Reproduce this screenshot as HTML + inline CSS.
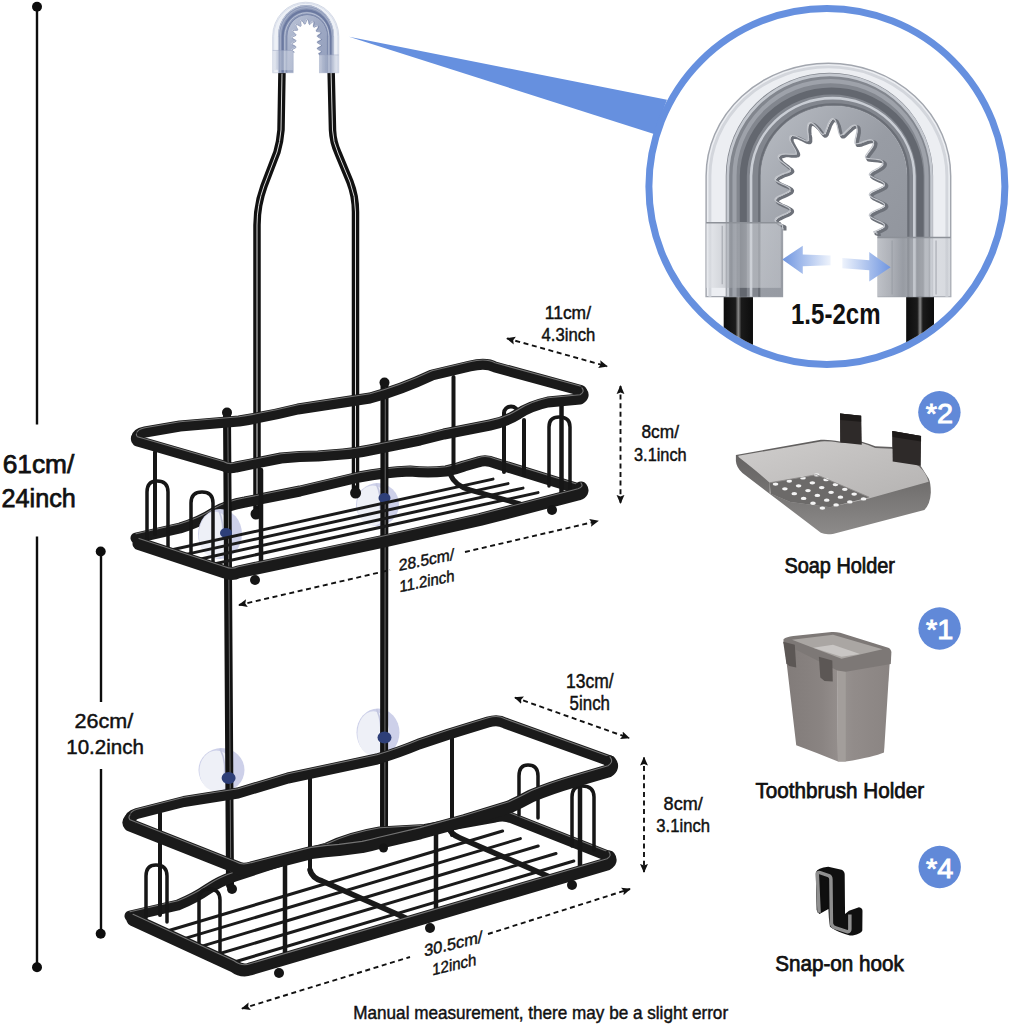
<!DOCTYPE html>
<html><head><meta charset="utf-8">
<style>
html,body{margin:0;padding:0;background:#fff;width:1010px;height:1024px;overflow:hidden}
svg{display:block}
text{font-family:"Liberation Sans",sans-serif;fill:#111}
.d{stroke:#111;stroke-width:0.45px}
.m{stroke:#111;stroke-width:0.75px}
</style></head><body>
<svg width="1010" height="1024" viewBox="0 0 1010 1024">
<defs>
  <marker id="ah" viewBox="0 0 10 10" refX="9" refY="5" markerWidth="9" markerHeight="9" markerUnits="userSpaceOnUse" orient="auto-start-reverse">
    <path d="M0,0.6 L10,5 L0,9.4 L1.8,5 Z" fill="#111"/>
  </marker>
  <clipPath id="circClip"><circle cx="826.9" cy="186.6" r="174.6"/></clipPath>
  <linearGradient id="bandG" x1="0" y1="0" x2="1" y2="0">
    <stop offset="0" stop-color="#c9ccd2"/><stop offset="0.12" stop-color="#8c9097"/><stop offset="0.3" stop-color="#7a7e86"/>
    <stop offset="0.5" stop-color="#a9adb5"/><stop offset="0.7" stop-color="#8a8e96"/><stop offset="0.88" stop-color="#7b7f87"/><stop offset="1" stop-color="#b9bdc4"/>
  </linearGradient>
  <linearGradient id="shellG" x1="0" y1="0" x2="1" y2="0">
    <stop offset="0" stop-color="#dfe2e8"/><stop offset="0.5" stop-color="#e9ebef"/><stop offset="1" stop-color="#d7dae0"/>
  </linearGradient>
  <linearGradient id="teethG" x1="0" y1="0" x2="1" y2="1">
    <stop offset="0" stop-color="#b9bdc4"/><stop offset="0.5" stop-color="#989ca4"/><stop offset="1" stop-color="#8f939b"/>
  </linearGradient>
  <linearGradient id="capG" x1="0" y1="0" x2="1" y2="0">
    <stop offset="0" stop-color="#e4e6ea"/><stop offset="0.2" stop-color="#c2c5cb"/><stop offset="0.35" stop-color="#9ea2a9"/><stop offset="0.6" stop-color="#d0d3d8"/><stop offset="1" stop-color="#c6c9cf"/>
  </linearGradient>
  <linearGradient id="arrL" x1="0" y1="0" x2="1" y2="0">
    <stop offset="0" stop-color="#6f95e0"/><stop offset="1" stop-color="#eef3fc"/>
  </linearGradient>
  <linearGradient id="arrR" x1="0" y1="0" x2="1" y2="0">
    <stop offset="0" stop-color="#eef3fc"/><stop offset="1" stop-color="#6f95e0"/>
  </linearGradient>
  <linearGradient id="wireG" x1="0" y1="0" x2="1" y2="0">
    <stop offset="0" stop-color="#0c0c0c"/><stop offset="0.4" stop-color="#1a1a1a"/><stop offset="0.5" stop-color="#8a8a8a"/><stop offset="0.6" stop-color="#1a1a1a"/><stop offset="1" stop-color="#0c0c0c"/>
  </linearGradient>
  <linearGradient id="soapWall" x1="0" y1="0" x2="0" y2="1">
    <stop offset="0" stop-color="#555353"/><stop offset="0.55" stop-color="#6f6d6c"/><stop offset="1" stop-color="#8d8b8a"/>
  </linearGradient>
  <linearGradient id="soapIn" x1="0" y1="0" x2="1" y2="1">
    <stop offset="0" stop-color="#cfcdcc"/><stop offset="1" stop-color="#b3b1b0"/>
  </linearGradient>
  <linearGradient id="tbL" x1="0" y1="0" x2="1" y2="0">
    <stop offset="0" stop-color="#817b79"/><stop offset="0.7" stop-color="#8a8482"/><stop offset="1" stop-color="#948e8c"/>
  </linearGradient>
  <linearGradient id="tbR" x1="0" y1="0" x2="1" y2="0">
    <stop offset="0" stop-color="#9a9593"/><stop offset="0.3" stop-color="#928c8a"/><stop offset="1" stop-color="#8a8482"/>
  </linearGradient>
  <linearGradient id="cupG" x1="0" y1="0" x2="1" y2="0.3">
    <stop offset="0" stop-color="#f2f3f8"/><stop offset="0.45" stop-color="#eceef6"/><stop offset="0.7" stop-color="#d9dbee"/><stop offset="1" stop-color="#dcdef0"/>
  </linearGradient>
  <filter id="blueTint" color-interpolation-filters="sRGB">
    <feColorMatrix type="matrix" values="0.95 0 0 0 0.05  0 0.88 0 0 0.12  0 0 0.66 0 0.34  0 0 0 1 0"/>
  </filter>
  <g id="clipArt">
    <path d="M55,842 L55,430 A417.5,385 0 0 1 890,430 L890,842 Z" fill="#eceef2" stroke="#a2a6ae" stroke-width="5"/>
    <path d="M68,842 L68,430 A404,372 0 0 1 877,430 L877,842" fill="none" stroke="#d3d6dc" stroke-width="10"/>
    <path d="M242,842 L242,430 A249.5,239 0 0 1 741,430 L741,842 Z" fill="url(#teethG)"/>
    <path d="M122,842 L122,430 A354,352 0 0 1 830,430 L830,842 L741,842 L741,430 A249.5,239 0 0 0 242,430 L242,842 Z" fill="#82868e"/>
    <path d="M129.2,842 L129.2,430 A347.7,345.2 0 0 1 824.7,430 L824.7,842" fill="none" stroke="#c4c8cf" stroke-width="9"/>
    <path d="M152.0,842 L152.0,430 A327.9,323.8 0 0 1 807.8,430 L807.8,842" fill="none" stroke="#9ea2aa" stroke-width="14"/>
    <path d="M182.0,842 L182.0,430 A301.8,295.5 0 0 1 785.5,430 L785.5,842" fill="none" stroke="#63676f" stroke-width="24"/>
    <path d="M208.4,842 L208.4,430 A278.8,270.6 0 0 1 765.9,430 L765.9,842" fill="none" stroke="#c9cdd4" stroke-width="9"/>
    <path d="M236.0,842 L236.0,430 A254.7,244.7 0 0 1 745.5,430 L745.5,842" fill="none" stroke="#6a6e76" stroke-width="7"/>
    <path d="M318,900 L318,896 L318,892 L318,888 L318,884 L318,880 L318,876 L318,872 L318,868 L318,864 L318,860 L318,856 L318,852 L318,848 L318,844 L318,840 L318,836 L318,832 L318,828 L318,824 L318,820 L318,816 L318,812 L318,808 L318,804 L318,800 L318,796 L318,792 L318,788 L318,784 L318,780 L318,776 L318,772 L318,768 L318,764 L318,760 L318,756 L318,752 L318,748 L318,744 L318,740 L318,736 L318,732 L318,728 L318,724 L318,720 L318,716 L318,712 L318,708 L318,704 L318,700 L318,696 L318,692 L318,688 L318,684 L318,680 L318,676 L318,672 L318,668 L318,664 L318,660 L318,656 L318,652 L318,648 L318,644 L318,640 L318,636 L318,632 L318,628 L318,624 L318,620 L318,616 L318,612 L318,608 L318,604 L318,600 L309,596 L301,592 L295,588 L292,584 L293,580 L296,576 L303,572 L311,568 L320,564 L329,560 L337,556 L342,552 L344,548 L343,544 L338,540 L331,536 L323,532 L313,528 L305,524 L298,520 L293,516 L292,512 L294,508 L299,504 L307,500 L316,496 L325,492 L333,488 L340,484 L343,480 L344,476 L341,472 L335,468 L327,464 L318,460 L309,456 L301,452 L295,448 L292,444 L293,440 L296,436 L303,432 L311,428 L320,424 L330,421 L337,418 L343,414 L345,411 L344,408 L341,404 L334,399 L327,393 L319,387 L311,381 L306,375 L303,369 L303,365 L306,361 L313,359 L321,357 L331,357 L341,358 L351,358 L358,358 L363,357 L365,354 L364,349 L361,343 L357,336 L352,327 L347,318 L343,310 L342,303 L343,298 L346,294 L352,294 L360,295 L368,298 L378,303 L386,307 L394,311 L400,312 L404,312 L406,309 L406,304 L406,296 L404,286 L403,276 L403,267 L404,258 L406,253 L410,250 L415,250 L421,253 L428,259 L435,266 L441,274 L446,281 L451,287 L455,290 L459,289 L462,286 L464,280 L467,272 L471,262 L474,253 L479,245 L483,239 L488,236 L492,237 L497,241 L500,248 L504,257 L506,267 L508,276 L510,284 L512,290 L515,293 L518,293 L523,290 L529,284 L535,278 L543,271 L550,264 L557,260 L563,258 L568,259 L571,263 L572,270 L572,279 L570,289 L568,298 L566,307 L565,315 L565,320 L567,322 L572,322 L578,321 L586,318 L596,314 L605,311 L614,309 L621,309 L626,311 L629,315 L628,321 L626,328 L621,336 L615,344 L609,352 L604,359 L601,364 L601,368 L603,371 L609,372 L616,373 L626,374 L636,375 L645,376 L653,378 L659,382 L661,386 L660,391 L656,396 L649,402 L641,407 L632,412 L624,416 L618,421 L615,424 L614,428 L617,431 L623,435 L631,439 L640,443 L649,447 L657,451 L663,455 L666,459 L665,463 L662,467 L655,471 L647,475 L638,479 L629,483 L621,487 L616,491 L614,495 L615,499 L620,503 L627,507 L635,511 L645,515 L653,519 L660,523 L665,527 L666,531 L664,535 L659,539 L651,543 L642,547 L633,551 L625,555 L618,559 L615,563 L614,567 L617,571 L623,575 L631,579 L640,583 L649,587 L657,591 L663,595 L666,599 L665,603 L662,607 L655,611 L647,615 L638,619 L629,623 L640,627 L640,631 L640,635 L640,639 L640,643 L640,647 L640,651 L640,655 L640,659 L640,663 L640,667 L640,671 L640,675 L640,679 L640,683 L640,687 L640,691 L640,695 L640,699 L640,703 L640,707 L640,711 L640,715 L640,719 L640,723 L640,727 L640,731 L640,735 L640,739 L640,743 L640,747 L640,751 L640,755 L640,759 L640,763 L640,767 L640,771 L640,775 L640,779 L640,783 L640,787 L640,791 L640,795 L640,799 L640,803 L640,807 L640,811 L640,815 L640,819 L640,823 L640,827 L640,831 L640,835 L640,839 L640,843 L640,847 L640,851 L640,855 L640,859 L640,863 L640,867 L640,871 L640,875 L640,879 L640,883 L640,887 L640,891 L640,895 L640,899 L640,900 Z" fill="#fff"/>
    <path d="M318,612 L318,608 L318,604 L318,600 L309,596 L301,592 L295,588 L292,584 L293,580 L296,576 L303,572 L311,568 L320,564 L329,560 L337,556 L342,552 L344,548 L343,544 L338,540 L331,536 L323,532 L313,528 L305,524 L298,520 L293,516 L292,512 L294,508 L299,504 L307,500 L316,496 L325,492 L333,488 L340,484 L343,480 L344,476 L341,472 L335,468 L327,464 L318,460 L309,456 L301,452 L295,448 L292,444 L293,440 L296,436 L303,432 L311,428 L320,424 L330,421 L337,418 L343,414 L345,411 L344,408 L341,404 L334,399 L327,393 L319,387 L311,381 L306,375 L303,369 L303,365 L306,361 L313,359 L321,357 L331,357 L341,358 L351,358 L358,358 L363,357 L365,354 L364,349 L361,343 L357,336 L352,327 L347,318 L343,310 L342,303 L343,298 L346,294 L352,294 L360,295 L368,298 L378,303 L386,307 L394,311 L400,312 L404,312 L406,309 L406,304 L406,296 L404,286 L403,276 L403,267 L404,258 L406,253 L410,250 L415,250 L421,253 L428,259 L435,266 L441,274 L446,281 L451,287 L455,290 L459,289 L462,286 L464,280 L467,272 L471,262 L474,253 L479,245 L483,239 L488,236 L492,237 L497,241 L500,248 L504,257 L506,267 L508,276 L510,284 L512,290 L515,293 L518,293 L523,290 L529,284 L535,278 L543,271 L550,264 L557,260 L563,258 L568,259 L571,263 L572,270 L572,279 L570,289 L568,298 L566,307 L565,315 L565,320 L567,322 L572,322 L578,321 L586,318 L596,314 L605,311 L614,309 L621,309 L626,311 L629,315 L628,321 L626,328 L621,336 L615,344 L609,352 L604,359 L601,364 L601,368 L603,371 L609,372 L616,373 L626,374 L636,375 L645,376 L653,378 L659,382 L661,386 L660,391 L656,396 L649,402 L641,407 L632,412 L624,416 L618,421 L615,424 L614,428 L617,431 L623,435 L631,439 L640,443 L649,447 L657,451 L663,455 L666,459 L665,463 L662,467 L655,471 L647,475 L638,479 L629,483 L621,487 L616,491 L614,495 L615,499 L620,503 L627,507 L635,511 L645,515 L653,519 L660,523 L665,527 L666,531 L664,535 L659,539 L651,543 L642,547 L633,551 L625,555 L618,559 L615,563 L614,567 L617,571 L623,575 L631,579 L640,583 L649,587 L657,591 L663,595 L666,599 L665,603 L662,607 L655,611 L647,615 L638,619 L629,623 L640,627 L640,631" fill="none" stroke="#6d7179" stroke-width="11" stroke-linejoin="round" transform="translate(6,4)"/>
    <path d="M318,612 L318,608 L318,604 L318,600 L309,596 L301,592 L295,588 L292,584 L293,580 L296,576 L303,572 L311,568 L320,564 L329,560 L337,556 L342,552 L344,548 L343,544 L338,540 L331,536 L323,532 L313,528 L305,524 L298,520 L293,516 L292,512 L294,508 L299,504 L307,500 L316,496 L325,492 L333,488 L340,484 L343,480 L344,476 L341,472 L335,468 L327,464 L318,460 L309,456 L301,452 L295,448 L292,444 L293,440 L296,436 L303,432 L311,428 L320,424 L330,421 L337,418 L343,414 L345,411 L344,408 L341,404 L334,399 L327,393 L319,387 L311,381 L306,375 L303,369 L303,365 L306,361 L313,359 L321,357 L331,357 L341,358 L351,358 L358,358 L363,357 L365,354 L364,349 L361,343 L357,336 L352,327 L347,318 L343,310 L342,303 L343,298 L346,294 L352,294 L360,295 L368,298 L378,303 L386,307 L394,311 L400,312 L404,312 L406,309 L406,304 L406,296 L404,286 L403,276 L403,267 L404,258 L406,253 L410,250 L415,250 L421,253 L428,259 L435,266 L441,274 L446,281 L451,287 L455,290 L459,289 L462,286 L464,280 L467,272 L471,262 L474,253 L479,245 L483,239 L488,236 L492,237 L497,241 L500,248 L504,257 L506,267 L508,276 L510,284 L512,290 L515,293 L518,293 L523,290 L529,284 L535,278 L543,271 L550,264 L557,260 L563,258 L568,259 L571,263 L572,270 L572,279 L570,289 L568,298 L566,307 L565,315 L565,320 L567,322 L572,322 L578,321 L586,318 L596,314 L605,311 L614,309 L621,309 L626,311 L629,315 L628,321 L626,328 L621,336 L615,344 L609,352 L604,359 L601,364 L601,368 L603,371 L609,372 L616,373 L626,374 L636,375 L645,376 L653,378 L659,382 L661,386 L660,391 L656,396 L649,402 L641,407 L632,412 L624,416 L618,421 L615,424 L614,428 L617,431 L623,435 L631,439 L640,443 L649,447 L657,451 L663,455 L666,459 L665,463 L662,467 L655,471 L647,475 L638,479 L629,483 L621,487 L616,491 L614,495 L615,499 L620,503 L627,507 L635,511 L645,515 L653,519 L660,523 L665,527 L666,531 L664,535 L659,539 L651,543 L642,547 L633,551 L625,555 L618,559 L615,563 L614,567 L617,571 L623,575 L631,579 L640,583 L649,587 L657,591 L663,595 L666,599 L665,603 L662,607 L655,611 L647,615 L638,619 L629,623 L640,627 L640,631" fill="none" stroke="#c3c6cc" stroke-width="4" stroke-linejoin="round" transform="translate(-2,-2)"/>
    <rect x="55" y="590" width="255" height="222" fill="url(#capG)" opacity="0.55"/>
    <rect x="640" y="640" width="250" height="202" fill="url(#capG)" opacity="0.55"/>
    <path d="M55,590 L310,590 M640,640 L890,640" stroke="#8d9198" stroke-width="5"/>
    <path d="M110,600 L110,800 M690,650 L690,835 M840,650 L840,835" stroke="#9599a0" stroke-width="4" opacity="0.7"/>
      </g>
</defs>
<g fill="#0d0d0d" stroke="#0d0d0d">
  <line x1="37" y1="7" x2="37" y2="424.5" stroke-width="2.4"/>
  <line x1="37" y1="536.5" x2="37" y2="967" stroke-width="2.4"/>
  <circle cx="37" cy="6.8" r="5" stroke="none"/>
  <circle cx="37" cy="967.3" r="5" stroke="none"/>
  <line x1="101" y1="551" x2="101" y2="702" stroke-width="2.4"/>
  <line x1="101" y1="769" x2="101" y2="934" stroke-width="2.4"/>
  <circle cx="100.7" cy="551.5" r="5" stroke="none"/>
  <circle cx="100.7" cy="933.8" r="5" stroke="none"/>
</g>
<text x="2.7" y="473.1" style="font-size:26.6px;font-weight:normal" textLength="71.6" lengthAdjust="spacingAndGlyphs" class="m">61cm/</text>
<text x="1.5" y="507.3" style="font-size:26.6px;font-weight:normal" textLength="74.3" lengthAdjust="spacingAndGlyphs" class="m">24inch</text>
<text x="74.5" y="728.3" class="d" style="font-size:20.3px" textLength="58.7" lengthAdjust="spacingAndGlyphs">26cm/</text>
<text x="66.3" y="754.3" class="d" style="font-size:20.3px" textLength="77.6" lengthAdjust="spacingAndGlyphs">10.2inch</text>
<text x="544.8" y="319" class="d" style="font-size:18.3px" textLength="46.2" lengthAdjust="spacingAndGlyphs">11cm/</text>
<text x="541.6" y="340.5" class="d" style="font-size:18.3px" textLength="53.7" lengthAdjust="spacingAndGlyphs">4.3inch</text>
<text x="641.5" y="438.3" class="d" style="font-size:18.3px" textLength="37.5" lengthAdjust="spacingAndGlyphs">8cm/</text>
<text x="634" y="461" class="d" style="font-size:18.3px" textLength="52.7" lengthAdjust="spacingAndGlyphs">3.1inch</text>
<text x="566" y="687.8" class="d" style="font-size:19.5px" textLength="47.6" lengthAdjust="spacingAndGlyphs">13cm/</text>
<text x="569.6" y="710" class="d" style="font-size:19.5px" textLength="40.4" lengthAdjust="spacingAndGlyphs">5inch</text>
<text x="663.6" y="810" class="d" style="font-size:18.8px" textLength="39.1" lengthAdjust="spacingAndGlyphs">8cm/</text>
<text x="656.3" y="832" class="d" style="font-size:18.8px" textLength="53.7" lengthAdjust="spacingAndGlyphs">3.1inch</text>
<text x="353.3" y="1018.8" class="d" style="font-size:18.2px" textLength="374.8" lengthAdjust="spacingAndGlyphs">Manual measurement, there may be a slight error</text>
<text x="784.4" y="573" style="font-size:22.3px;font-weight:normal" textLength="110.6" lengthAdjust="spacingAndGlyphs" class="m">Soap Holder</text>
<text x="755.4" y="798.4" style="font-size:22.3px;font-weight:normal" textLength="168.8" lengthAdjust="spacingAndGlyphs" class="m">Toothbrush Holder</text>
<text x="775.3" y="970.5" style="font-size:22.3px;font-weight:normal" textLength="128.5" lengthAdjust="spacingAndGlyphs" class="m">Snap-on hook</text>
<g transform="matrix(1,-0.2,0,1,398.7,570.9)"><text x="0" y="0" class="d" style="font-size:16.3px" textLength="55.5" lengthAdjust="spacingAndGlyphs">28.5cm/</text><text x="0.8" y="21.4" class="d" style="font-size:16.3px" textLength="55" lengthAdjust="spacingAndGlyphs">11.2inch</text></g>
<g transform="matrix(1,-0.242,0,1,424.3,956.5)"><text x="0" y="0" class="d" style="font-size:16.6px" textLength="58" lengthAdjust="spacingAndGlyphs">30.5cm/</text><text x="8" y="21" class="d" style="font-size:16.6px" textLength="44" lengthAdjust="spacingAndGlyphs">12inch</text></g>
<path d="M349,36.7 L667,99.8 L654,134 Z" fill="#6690df"/>
<circle cx="826.9" cy="186.6" r="178" fill="#fff" stroke="#6690df" stroke-width="7"/>
<g clip-path="url(#circClip)">
  <g transform="translate(690,50) scale(0.29291)">
    <rect x="115" y="800" width="100" height="260" fill="url(#wireG)"/>
    <rect x="738" y="835" width="95" height="230" fill="url(#wireG)"/>
    <use href="#clipArt"/>
    <path d="M315,715 L385,668 L385,698 L480,702 L480,735 L385,738 L385,765 Z" fill="url(#arrL)"/>
    <path d="M685,742 L612,690 L612,718 L520,710 L520,745 L612,752 L612,790 Z" fill="url(#arrR)"/>
  </g>
</g>
<text x="791" y="324" style="font-size:30px;font-weight:bold" textLength="89.5" lengthAdjust="spacingAndGlyphs">1.5-2cm</text>
<circle cx="939.4" cy="412.3" r="21.2" fill="#6189d8"/><text x="925.7" y="423.0" style="font-size:27.5px;font-weight:normal;fill:#fff" textLength="27.3" lengthAdjust="spacingAndGlyphs" stroke="#fff" stroke-width="0.9">*2</text><circle cx="939.6" cy="628.5" r="21.2" fill="#6189d8"/><text x="925.9" y="639.2" style="font-size:27.5px;font-weight:normal;fill:#fff" textLength="27.3" lengthAdjust="spacingAndGlyphs" stroke="#fff" stroke-width="0.9">*1</text><circle cx="939.7" cy="867" r="21.2" fill="#6189d8"/><text x="926.0" y="877.7" style="font-size:27.5px;font-weight:normal;fill:#fff" textLength="27.3" lengthAdjust="spacingAndGlyphs" stroke="#fff" stroke-width="0.9">*4</text>
<g id="caddy" fill="none" stroke-linecap="round" stroke-linejoin="round">
  <!-- hanger wires -->
  <g stroke="#111" stroke-width="7.5">
    <path d="M282,70 L281,130 Q280,142 277,152 L264,186 Q257,205 257,225 L257,512"/>
    <path d="M331,66 L332.5,130 Q333,142 338,153 L350,182 Q355.5,196 355.5,212 L355.5,492"/>
  </g>
  <g stroke="#d8d8d8" stroke-width="1">
    <path d="M282,74 L281,130 Q280,142 277,152 L264,186 Q257,205 257,225 L257,505"/>
    <path d="M331,70 L332.5,130 Q333,142 338,153 L350,182 Q355.5,196 355.5,212 L355.5,485"/>
  </g>

  <!-- ===== TOP SHELF ===== -->
  <!-- floor back bar -->
  <path d="M136,538 L180,528 Q200,522 215,512 Q228,505 245,502 L300,491 L359,477 Q385,472 410,471 Q428,473 446,471 Q456,469 464,466 L478,462 Q486,459 495,463 L579,489" stroke="#1a1a1a" stroke-width="11"/>
  <path d="M136,538 L180,528 Q200,522 215,512 Q228,505 245,502 L300,491 L359,477 Q385,472 410,471 Q428,473 446,471 Q456,469 464,466 L478,462 Q486,459 495,463 L579,489" stroke="#8a8a8a" stroke-width="1.1" transform="translate(0,-4.2)" opacity="0.8"/>
  <!-- suction cups top -->
  <ellipse cx="220.0" cy="534.0" rx="22.0" ry="25.0" fill="#cdd0e9" stroke="none"/><ellipse cx="215.2" cy="535.0" rx="16.3" ry="23.2" fill="#eef0f7" stroke="none"/><path d="M218.9,510.2 Q224.4,524.0 222.6,539.0" stroke="#c4c7e0" stroke-width="1.6" fill="none"/>
  <ellipse cx="377.5" cy="504.5" rx="21.5" ry="21.5" fill="#cdd0e9" stroke="none"/><ellipse cx="372.8" cy="505.4" rx="15.9" ry="20.0" fill="#eef0f7" stroke="none"/><path d="M376.4,484.1 Q381.8,495.9 380.1,508.8" stroke="#c4c7e0" stroke-width="1.6" fill="none"/>
  <!-- cross bar -->
  <path d="M450,474 Q455,486 470,490 L520,504" stroke="#1a1a1a" stroke-width="5"/>
  <!-- back posts -->
  <g stroke="#161616" stroke-width="4">
    <line x1="453.5" y1="377" x2="453.5" y2="468"/>
    <path d="M504,472 L504,413 A7,6.5 0 0 1 518,413"/>
    <line x1="524" y1="420" x2="524" y2="475"/>
    <line x1="155" y1="452" x2="155" y2="534"/>
  </g>
  <!-- bottom cups -->
  <ellipse cx="221.5" cy="770.0" rx="23.0" ry="22.0" fill="#cdd0e9" stroke="none"/><ellipse cx="216.4" cy="770.9" rx="17.0" ry="20.5" fill="#eef0f7" stroke="none"/><path d="M220.3,749.1 Q226.1,761.2 224.3,774.4" stroke="#c4c7e0" stroke-width="1.6" fill="none"/>
  <ellipse cx="378.0" cy="732.5" rx="21.5" ry="24.0" fill="#cdd0e9" stroke="none"/><ellipse cx="373.3" cy="733.5" rx="15.9" ry="22.3" fill="#eef0f7" stroke="none"/><path d="M376.9,709.7 Q382.3,722.9 380.6,737.3" stroke="#c4c7e0" stroke-width="1.6" fill="none"/>
  <!-- long rods -->
  <g stroke="#121212" stroke-width="8">
    <path d="M227,414 L230,885"/>
    <path d="M384.5,384 L384,840"/>
  </g>
  <g stroke="#6a6a6a" stroke-width="1">
    <path d="M227.8,418 L230.8,880"/>
    <path d="M385.3,388 L384.8,835"/>
  </g>
  <g fill="#151515" stroke="none">
    <circle cx="227" cy="412.5" r="5"/><circle cx="384.5" cy="382.5" r="5"/>
    <circle cx="256" cy="514" r="5.5"/><circle cx="355.6" cy="493" r="5.5"/>
  </g>
  <!-- navy knobs -->
  <g fill="#2e3f78" stroke="none">
    <ellipse cx="226" cy="533" rx="6" ry="5"/><ellipse cx="384.5" cy="498" rx="6" ry="5"/>
    <ellipse cx="228.6" cy="778" rx="7" ry="6"/><ellipse cx="384.5" cy="737.6" rx="7" ry="6"/>
  </g>
  <!-- slats top -->
  <g stroke="#1a1a1a" stroke-width="3">
    <line x1="163" y1="551.7" x2="493" y2="479.1"/>
    <line x1="177" y1="556.4" x2="508" y2="483.6"/>
    <line x1="191.6" y1="561" x2="523" y2="488.1"/>
    <line x1="206" y1="565.7" x2="538" y2="492.6"/>
  </g>
  <!-- top rim back bar + right side -->
  <path d="M136.5,438 Q137,433.5 145,432 L180,426 L239,421 Q270,416 298,409 L370,398 Q400,390 432,375 L470,366 Q486,362 495,367 L581,390.5" stroke="#1a1a1a" stroke-width="11"/>
  <path d="M136.5,438 Q137,433.5 145,432 L180,426 L239,421 Q270,416 298,409 L370,398 Q400,390 432,375 L470,366 Q486,362 495,367 L581,390.5" stroke="#8a8a8a" stroke-width="1.1" transform="translate(0,-4.2)" opacity="0.8"/>
  <!-- front posts -->
  <g stroke="#161616" stroke-width="4.5">
    <line x1="261" y1="470" x2="261" y2="570"/>
    <line x1="561.5" y1="405" x2="561.5" y2="493"/>
  </g>
  <!-- U loops top shelf -->
  <g stroke="#161616" stroke-width="3.5">
    <path d="M147,545 L147,492 Q147,481 157,481 Q168,481 168,492 L168,550"/>
    <path d="M191,556 L191,503 Q191,492 202,492 Q213,492 213,503 L213,562"/>
    <path d="M549,486 L549,427 Q549,417 559,417 Q570,417 570,427 L570,490"/>
  </g>
  <!-- floor front bar + left side -->
  <path d="M139,543.6 L225,572 Q232,575 238,572 L380,542 L480,519.5 L578,494 Q584,492 581,488" stroke="#1a1a1a" stroke-width="13"/>
  <path d="M139,543.6 L225,572 Q232,575 238,572 L380,542 L480,519.5 L578,494 Q584,492 581,488" stroke="#8a8a8a" stroke-width="1.1" transform="translate(0,-5.2)" opacity="0.8"/>
  <!-- top rim front + left -->
  <path d="M582,392 Q585,396 580,399 L548,402 Q530,406 518,414 Q505,422 490,425 L444,434 L420,440 L370,450 Q355,453 343,454 L318,456 Q300,456 281,458 L236,467 Q229,469 224,466 L137.5,441 Q136,439.5 136.5,438" stroke="#1a1a1a" stroke-width="11"/>
  <path d="M582,392 Q585,396 580,399 L548,402 Q530,406 518,414 Q505,422 490,425 L444,434 L420,440 L370,450 Q355,453 343,454 L318,456 Q300,456 281,458 L236,467 Q229,469 224,466 L137.5,441 Q136,439.5 136.5,438" stroke="#8a8a8a" stroke-width="1.1" transform="translate(0,-4.2)" opacity="0.8"/>
  <!-- feet -->
  <g fill="#151515" stroke="none">
    <circle cx="255" cy="580" r="5"/><circle cx="552" cy="510" r="5"/>
  </g>

  <!-- ===== BOTTOM SHELF ===== -->
  <!-- floor back bar -->
  <path d="M130,916 L178,905 Q195,898 208,889 Q220,881 235,876 L290,858 L327,848 Q350,837 380,832 L425,829.5 L495,817 Q504,814.5 512,818 L608,856" stroke="#1a1a1a" stroke-width="11"/>
  <path d="M130,916 L178,905 Q195,898 208,889 Q220,881 235,876 L290,858 L327,848 Q350,837 380,832 L425,829.5 L495,817 Q504,814.5 512,818 L608,856" stroke="#8a8a8a" stroke-width="1.1" transform="translate(0,-4.2)" opacity="0.8"/>
  <!-- suction cups -->

  <!-- cross bars -->
  <g stroke="#1a1a1a" stroke-width="5.5">
    <path d="M310,870 Q312,878 322,881 L408,919"/>
    <path d="M448,826 Q450,834 460,838 L552,878"/>
  </g>
  <!-- back posts -->
  <g stroke="#161616" stroke-width="4">
    <line x1="160" y1="813" x2="160" y2="915"/>
    <line x1="452" y1="734" x2="452" y2="835"/>
    <line x1="310" y1="778" x2="310" y2="872"/>
  </g>
  <!-- slats bottom -->
  <g stroke="#1a1a1a" stroke-width="3">
    <line x1="158" y1="933.8" x2="502.6" y2="831"/>
    <line x1="175" y1="941.4" x2="520.4" y2="838.6"/>
    <line x1="192" y1="949.1" x2="538.2" y2="846"/>
    <line x1="209" y1="956.8" x2="556" y2="853.5"/>
    <line x1="226" y1="964.5" x2="573.8" y2="861"/>
  </g>
  <!-- top rim back bar + right side -->
  <path d="M130,820 Q130,815.5 137,813.5 L184,801.5 L238,793 L288,778 L377,759 Q400,752 419,744 L449,734 L488,722 Q498,719 505,723 L610,761" stroke="#1a1a1a" stroke-width="11"/>
  <path d="M130,820 Q130,815.5 137,813.5 L184,801.5 L238,793 L288,778 L377,759 Q400,752 419,744 L449,734 L488,722 Q498,719 505,723 L610,761" stroke="#8a8a8a" stroke-width="1.1" transform="translate(0,-4.2)" opacity="0.8"/>
  <!-- U loops / posts -->
  <g stroke="#161616" stroke-width="3.5">
    <path d="M146,918 L146,876 Q146,865 156,865 Q167,865 167,876 L167,922"/>
    <path d="M199,950 L199,900 Q199,889 209,889 Q220,889 220,900 L220,955"/>
    <path d="M519,815 L519,776 Q519,765 528,765 Q538,765 538,776 L538,818"/>
    <path d="M572,846 L572,797 Q572,786 582,786 Q594,786 594,797 L594,850"/>
  </g>
  <g stroke="#161616" stroke-width="4.5">
    <line x1="285" y1="862" x2="285" y2="955"/>
    <line x1="436" y1="830" x2="436" y2="912"/>
    <line x1="580" y1="782" x2="580" y2="868"/>
  </g>
  <!-- floor front + left -->
  <path d="M133,919.5 L234,966 Q242,972 250,969 L607,864 Q612,861 609,857" stroke="#1a1a1a" stroke-width="13"/>
  <path d="M133,919.5 L234,966 Q242,972 250,969 L607,864 Q612,861 609,857" stroke="#8a8a8a" stroke-width="1.1" transform="translate(0,-5.2)" opacity="0.8"/>
  <!-- top rim front + left -->
  <path d="M610,762 Q614,767 608,771 L574,781 Q550,788 531,796 Q520,802 509,807 L465,820.5 L420,832.8 L378,842.7 Q370,845 362,846.6 L339,849.6 Q325,850.5 311,852.6 L251.7,867.8 Q242,871 236,867 L130,825 Q128,822.5 130,820" stroke="#1a1a1a" stroke-width="13"/>
  <path d="M610,762 Q614,767 608,771 L574,781 Q550,788 531,796 Q520,802 509,807 L465,820.5 L420,832.8 L378,842.7 Q370,845 362,846.6 L339,849.6 Q325,850.5 311,852.6 L251.7,867.8 Q242,871 236,867 L130,825 Q128,822.5 130,820" stroke="#8a8a8a" stroke-width="1.1" transform="translate(0,-5.2)" opacity="0.8"/>
  <!-- feet -->
  <g fill="#151515" stroke="none">
    <circle cx="232" cy="889" r="5"/><circle cx="383.5" cy="848" r="4.5"/><circle cx="279" cy="973" r="5"/><circle cx="430" cy="928" r="5"/><circle cx="572" cy="885" r="5"/>
  </g>
</g>

<g transform="translate(268.3,-1.79) scale(0.0792,0.0886)" filter="url(#blueTint)">
  <use href="#clipArt"/>
</g>
<g transform="translate(725,400) scale(0.21782)">
  <path d="M50,252 L440,183 Q470,180 528,190 L528,62 L625,72 L625,190 Q660,200 690,212 L768,216 L768,142 L900,165 L898,302 L935,360 Q945,380 945,425 Q942,480 915,505 L495,615 Q460,620 440,610 L80,335 Q52,310 50,280 Z" fill="url(#soapWall)"/>
  <path d="M62,256 L440,190 Q470,187 528,196 L625,196 Q660,206 690,220 L768,224 L890,304 Q925,335 935,375 L660,452 L482,492 L300,468 L205,428 L205,380 Q150,330 62,262 Z" fill="url(#soapIn)"/>
  <path d="M205,380 L420,343 L662,446 L482,492 L300,468 L210,430 Z" fill="#6c6a69"/>
  <g fill="#f4f4f4"><ellipse cx="232" cy="386" rx="13" ry="7.5"/><ellipse cx="275" cy="408" rx="13" ry="7.5"/><ellipse cx="318" cy="430" rx="13" ry="7.5"/><ellipse cx="361" cy="452" rx="13" ry="7.5"/><ellipse cx="404" cy="474" rx="13" ry="7.5"/><ellipse cx="447" cy="496" rx="13" ry="7.5"/><ellipse cx="295" cy="372" rx="13" ry="7.5"/><ellipse cx="338" cy="394" rx="13" ry="7.5"/><ellipse cx="381" cy="416" rx="13" ry="7.5"/><ellipse cx="424" cy="438" rx="13" ry="7.5"/><ellipse cx="467" cy="460" rx="13" ry="7.5"/><ellipse cx="510" cy="482" rx="13" ry="7.5"/><ellipse cx="358" cy="358" rx="13" ry="7.5"/><ellipse cx="401" cy="380" rx="13" ry="7.5"/><ellipse cx="444" cy="402" rx="13" ry="7.5"/><ellipse cx="487" cy="424" rx="13" ry="7.5"/><ellipse cx="530" cy="446" rx="13" ry="7.5"/><ellipse cx="573" cy="468" rx="13" ry="7.5"/><ellipse cx="421" cy="344" rx="13" ry="7.5"/><ellipse cx="464" cy="366" rx="13" ry="7.5"/><ellipse cx="507" cy="388" rx="13" ry="7.5"/><ellipse cx="550" cy="410" rx="13" ry="7.5"/><ellipse cx="593" cy="432" rx="13" ry="7.5"/><ellipse cx="636" cy="454" rx="13" ry="7.5"/></g>
  <path d="M205,380 L420,343 L662,446" fill="none" stroke="#8d8b8a" stroke-width="4"/>
  <path d="M528,62 L625,72 L628,205 L530,195 Z" fill="#2e2a29"/>
  <path d="M528,62 L625,72 L625,100 L530,92 Z" fill="#1d1a19"/>
  <path d="M768,142 L900,165 L898,302 L770,282 Z" fill="#2e2a29"/>
  <path d="M768,142 L900,165 L900,190 L770,170 Z" fill="#1d1a19"/>
  </g>
<g transform="translate(775,625) scale(0.14156)">
  <path d="M65,120 L440,250 L445,965 Q300,905 150,850 Z" fill="url(#tbL)"/>
  <path d="M440,250 L815,190 L770,900 Q700,930 500,965 L445,965 Z" fill="url(#tbR)"/>
  <path d="M440,262 L500,257 L500,965 L445,965 Z" fill="#a39e9b"/>
  <path d="M60,100 Q80,85 130,78 L400,50 Q430,48 460,55 L800,160 Q822,170 822,195 L818,275 L500,330 L440,322 L60,130 Z" fill="#7d7876"/>
  <path d="M120,105 L410,68 L760,172 L470,238 Z" fill="#aaa6a3"/>
  <path d="M270,160 L410,140 L600,205 L470,225 Z" fill="#c9c6c4"/>
  <path d="M58,118 L140,140 L150,300 L100,290 L80,270 Z" fill="#5c5755"/>
  <path d="M310,225 L405,250 L408,400 L350,395 L320,370 Z" fill="#5c5755"/>
</g>
<g transform="translate(805,860) scale(0.08306)">
  <path d="M130,150 Q150,95 280,82 L440,118 Q478,135 478,175 L482,650 L530,610 L650,568 Q692,580 692,610 L690,850 Q680,885 575,910 L540,910 Q330,840 300,800 L288,700 L282,590 L175,650 Q145,640 140,600 Z" fill="#0f0f0f"/>
  <path d="M170,635 L148,170 Q150,145 180,152 L285,188 Q312,200 312,232 L318,765 Q325,805 370,818 L515,865 Q540,860 540,835 L540,655" fill="none" stroke="#8f8f8f" stroke-width="42" stroke-linejoin="round"/>
  <path d="M195,230 L265,250 L270,580 L200,600 Z" fill="#0f0f0f"/>
</g>
<g stroke="#111" stroke-width="1.9" stroke-dasharray="5,3.6" fill="none">
  <line x1="507" y1="338.4" x2="607" y2="366.3" marker-start="url(#ah)" marker-end="url(#ah)"/>
  <line x1="620.5" y1="386" x2="620.5" y2="503" marker-start="url(#ah)" marker-end="url(#ah)"/>
  <line x1="515" y1="697.6" x2="629" y2="738" marker-start="url(#ah)" marker-end="url(#ah)"/>
  <line x1="644" y1="757.5" x2="644" y2="872" marker-start="url(#ah)" marker-end="url(#ah)"/>
  <line x1="239" y1="605" x2="390" y2="570" marker-start="url(#ah)"/>
  <line x1="465" y1="552" x2="598" y2="521" marker-end="url(#ah)"/>
  <line x1="242" y1="1008.6" x2="410" y2="957" marker-start="url(#ah)"/>
  <line x1="488" y1="934" x2="630" y2="889" marker-end="url(#ah)"/>
</g>
</svg>
</body></html>
